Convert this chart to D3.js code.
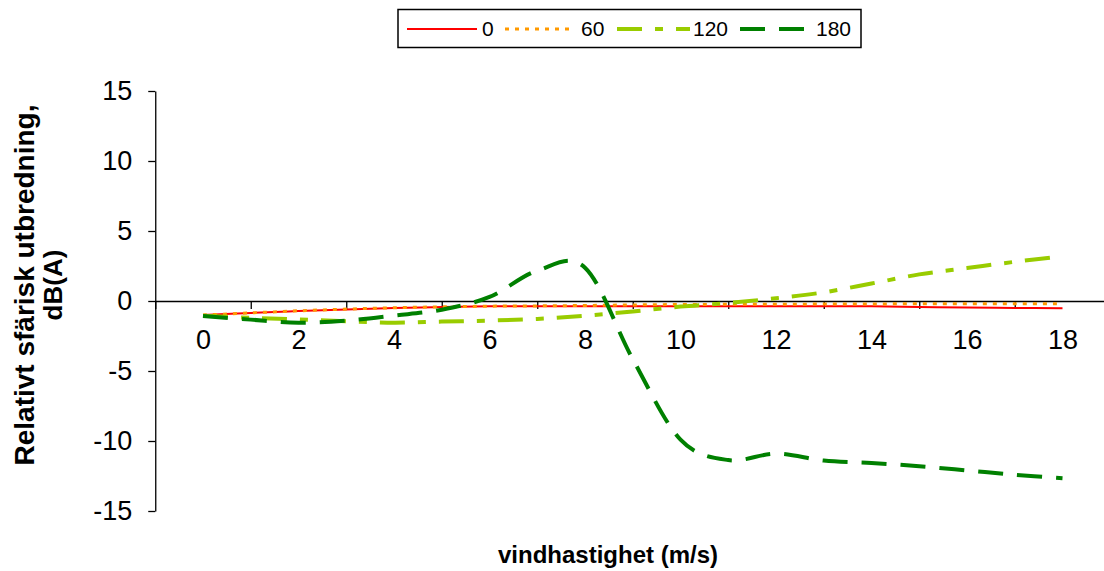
<!DOCTYPE html>
<html>
<head>
<meta charset="utf-8">
<script src="https://cdn.jsdelivr.net/npm/d3@7"></script>
<style>
  html, body { margin: 0; padding: 0; background: #fff; }
  svg { display: block; font-family: Arial, "Liberation Sans", sans-serif; }
</style>
</head>
<body>
<svg id="chart" width="1104" height="571"></svg>
<script>
// Wind speed categories (m/s)
const speeds = [0, 1, 2, 3, 4, 5, 6, 7, 8, 9, 10, 11, 12, 13, 14, 15, 16, 17, 18];

// Relative spherical spreading, dB(A), per wind direction (degrees)
const dir0   = [-1.0, -0.85, -0.72, -0.6, -0.5, -0.43, -0.38, -0.38, -0.38, -0.38, -0.38, -0.38, -0.38, -0.38, -0.38, -0.42, -0.47, -0.5, -0.52];
const dir60  = [-1.0, -0.85, -0.7, -0.58, -0.48, -0.42, -0.37, -0.35, -0.32, -0.28, -0.25, -0.24, -0.23, -0.22, -0.21, -0.2, -0.2, -0.2, -0.2];
const dir120 = [-1.05, -1.2, -1.32, -1.45, -1.55, -1.47, -1.4, -1.28, -1.05, -0.75, -0.4, -0.14, 0.2, 0.62, 1.25, 1.9, 2.35, 2.8, 3.2];
const dir180 = [-1.07, -1.33, -1.55, -1.4, -1.04, -0.62, 0.29, 2.16, 2.38, -4.15, -9.9, -11.36, -10.9, -11.4, -11.57, -11.8, -12.1, -12.41, -12.66];

const seriesNames = ["0", "60", "120", "180"];
const yTicks = [-15, -10, -5, 0, 5, 10, 15];
const xLabelTicks = [0, 2, 4, 6, 8, 10, 12, 14, 16, 18];
const xMarkTicks = [-1, 1, 3, 5, 7, 9, 11, 13, 15, 17, 19];

const yTitleLines = ["Relativt sfärisk utbredning,", "dB(A)"];
const xTitle = "vindhastighet (m/s)";

const styles = [
  { color: "#FF0000", width: 2,   dash: null },
  { color: "#FF9900", width: 3,   dash: "4,6" },
  { color: "#99CC00", width: 4,   dash: "25,13,8,13" },
  { color: "#008000", width: 4,   dash: "25,14" }
];

const series = [dir0, dir60, dir120, dir180].map((vals, i) => ({
  name: seriesNames[i],
  values: vals.map((v, j) => ({ s: speeds[j], v })),
  style: styles[i]
}));

// plain hyphen for negative numbers
const fmt = d => String(d);

const svg = d3.select("#chart");

const x = d3.scaleLinear().domain([-1, 19]).range([155.25, 1110.25]);
const y = d3.scaleLinear().domain([-15, 15]).range([511, 91]);

// Vertical axis
const yAxis = svg.append("g")
  .attr("transform", `translate(${x(-1)},0)`)
  .call(d3.axisLeft(y).tickValues(yTicks).tickSize(7).tickPadding(16).tickSizeOuter(0).tickFormat(fmt));
yAxis.select(".domain").attr("stroke", "#000").attr("stroke-width", 1.3);
yAxis.selectAll(".tick line").attr("stroke", "#000").attr("stroke-width", 1.3);
yAxis.selectAll(".tick text")
  .attr("font-size", 27)
  .attr("font-family", "Arial, 'Liberation Sans', sans-serif")
  .attr("fill", "#000");

// Horizontal axis at zero: tick marks between label positions
const xAxisMarks = svg.append("g")
  .attr("transform", `translate(0,${y(0)})`)
  .call(d3.axisBottom(x).tickValues(xMarkTicks).tickSize(8).tickSizeOuter(0).tickFormat(""));
xAxisMarks.select(".domain").attr("stroke", "#000").attr("stroke-width", 1.3);
xAxisMarks.selectAll(".tick line").attr("stroke", "#000").attr("stroke-width", 1.3);

const xAxisLabels = svg.append("g")
  .attr("transform", `translate(0,${y(0)})`)
  .call(d3.axisBottom(x).tickValues(xLabelTicks).tickSize(0).tickPadding(29).tickFormat(fmt));
xAxisLabels.select(".domain").remove();
xAxisLabels.selectAll(".tick text")
  .attr("font-size", 27)
  .attr("font-family", "Arial, 'Liberation Sans', sans-serif")
  .attr("fill", "#000");

// Series lines, smoothed
const line = d3.line()
  .x(d => x(d.s))
  .y(d => y(d.v))
  .curve(d3.curveCardinal.tension(0));

svg.append("g").selectAll("path")
  .data(series)
  .join("path")
  .attr("d", d => line(d.values))
  .attr("fill", "none")
  .attr("stroke", d => d.style.color)
  .attr("stroke-width", d => d.style.width)
  .attr("stroke-dasharray", d => d.style.dash)
  .attr("stroke-linejoin", "round");

// Axis titles
const yTitle = svg.append("text")
  .attr("transform", "translate(34,285) rotate(-90)")
  .attr("text-anchor", "middle")
  .attr("font-size", 28)
  .attr("font-weight", "bold")
  .attr("fill", "#000");
yTitle.append("tspan").attr("x", 0).attr("y", 0).text(yTitleLines[0]);
yTitle.append("tspan").attr("x", 0).attr("y", 28).attr("font-size", 26).text(yTitleLines[1]);

svg.append("text")
  .attr("x", 608)
  .attr("y", 563)
  .attr("text-anchor", "middle")
  .attr("font-size", 24)
  .attr("font-weight", "bold")
  .attr("fill", "#000")
  .text(xTitle);

// Legend
const legend = svg.append("g");
legend.append("rect")
  .attr("x", 398).attr("y", 9.5)
  .attr("width", 463).attr("height", 38)
  .attr("fill", "#fff").attr("stroke", "#000").attr("stroke-width", 1.5);

const legendItems = [
  { x0: 407, x1: 477, tx: 482 },
  { x0: 505, x1: 574, tx: 581 },
  { x0: 617, x1: 690, tx: 693 },
  { x0: 740, x1: 808, tx: 816 }
];
series.forEach((s, i) => {
  const it = legendItems[i];
  legend.append("line")
    .attr("x1", it.x0).attr("x2", it.x1)
    .attr("y1", 29).attr("y2", 29)
    .attr("stroke", s.style.color)
    .attr("stroke-width", s.style.width)
    .attr("stroke-dasharray", s.style.dash);
  legend.append("text")
    .attr("x", it.tx).attr("y", 36)
    .attr("font-size", 21)
    .attr("fill", "#000")
    .text(s.name);
});
</script>
</body>
</html>
